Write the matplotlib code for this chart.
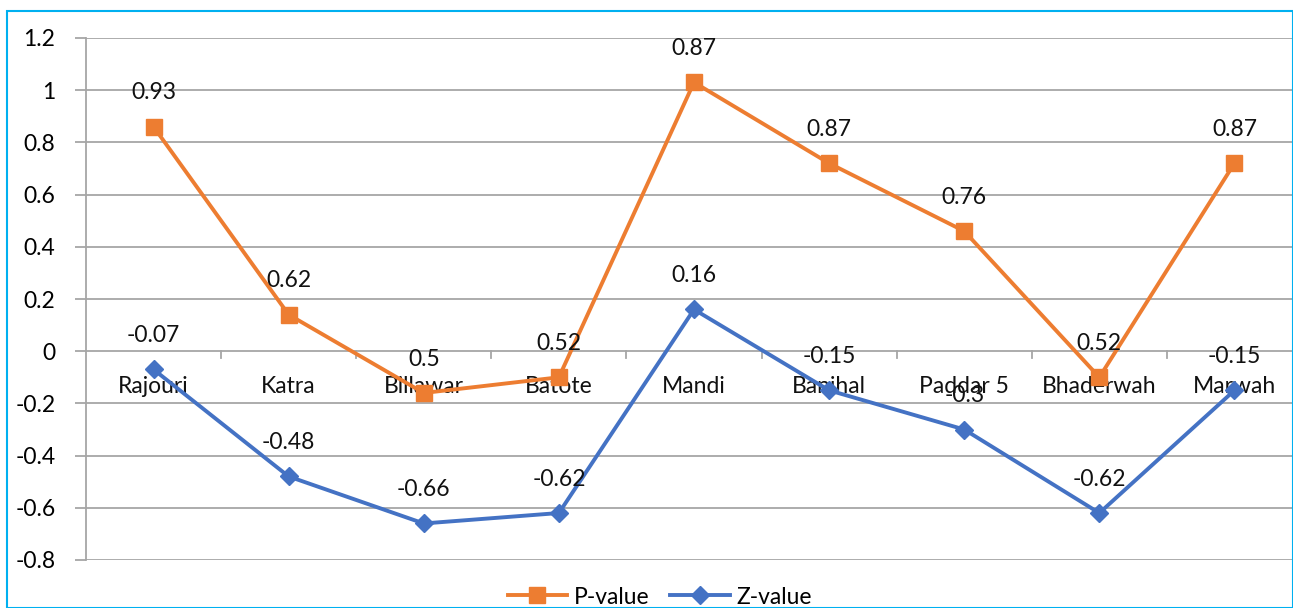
import matplotlib
matplotlib.use("Agg")
import matplotlib.pyplot as plt
from matplotlib.patches import Rectangle

plt.rcParams['font.family'] = ['Lato', 'DejaVu Sans']

sites = ["Rajouri", "Katra", "Billawar", "Batote", "Mandi", "Banihal", "Paddar 5", "Bhaderwah", "Marwah"]
p_value = [0.86, 0.14, -0.16, -0.10, 1.03, 0.72, 0.46, -0.10, 0.72]
z_value = [-0.07, -0.48, -0.66, -0.62, 0.16, -0.15, -0.30, -0.62, -0.15]
p_labels = ["0.93", "0.62", "0.5", "0.52", "0.87", "0.87", "0.76", "0.52", "0.87"]
z_labels = ["-0.07", "-0.48", "-0.66", "-0.62", "0.16", "-0.15", "-0.3", "-0.62", "-0.15"]

orange = "#ED7D31"
blue = "#4472C4"
grid = "#A6A6A6"
fs = 16.5

W, H = 1293, 608
fig = plt.figure(figsize=(W / 100, H / 100), dpi=100)
# light blue chart border
fig.patches.append(Rectangle((7 / W, 0), (W - 7) / W, (H - 11) / H, transform=fig.transFigure,
                             fill=False, edgecolor="#00B0F0", linewidth=1.5))

ax = fig.add_axes([86 / W, (H - 560) / H, (1302 - 86) / W, (560 - 38) / H])
x = list(range(len(sites)))
ax.set_xlim(-0.5, len(sites) - 0.5)
ax.set_ylim(-0.8, 1.2)

yt = [-0.8, -0.6, -0.4, -0.2, 0, 0.2, 0.4, 0.6, 0.8, 1, 1.2]
ax.set_yticks(yt)
ax.set_yticklabels(["-0.8", "-0.6", "-0.4", "-0.2", "0", "0.2", "0.4", "0.6", "0.8", "1", "1.2"], fontsize=fs)
for v in yt:
    ax.axhline(v, color=grid, linewidth=1.3, zorder=1)
ax.tick_params(axis="y", length=8, color=grid, pad=14, width=1.3)
ax.set_xticks([])
for s in ["top", "right", "bottom"]:
    ax.spines[s].set_visible(False)
ax.spines["left"].set_color(grid)
ax.spines["left"].set_linewidth(1.3)

# category ticks on the zero line
for i in range(1, len(sites)):
    ax.plot([i - 0.5, i - 0.5], [0, -0.025], color=grid, linewidth=1.3, zorder=1)
for i, s in enumerate(sites):
    ax.text(i, -0.135, s, ha="center", va="center", fontsize=fs, color="#111111", zorder=2)

ax.plot(x, p_value, color=orange, linewidth=2.8, marker="s", markersize=11, label="P-value", zorder=3)
ax.plot(x, z_value, color=blue, linewidth=2.8, marker="D", markersize=9, label="Z-value", zorder=4)

for i in x:
    ax.text(i, p_value[i] + 0.13, p_labels[i], ha="center", va="center", fontsize=fs, color="#111111", zorder=5)
    ax.text(i, z_value[i] + 0.13, z_labels[i], ha="center", va="center", fontsize=fs, color="#111111", zorder=5)

fig.legend(loc="center", bbox_to_anchor=(660 / W, (H - 597) / H), ncol=2, frameon=False,
           fontsize=fs, handlelength=2.6, columnspacing=0.9, handletextpad=0.3)

fig.savefig("out.png", dpi=100)
